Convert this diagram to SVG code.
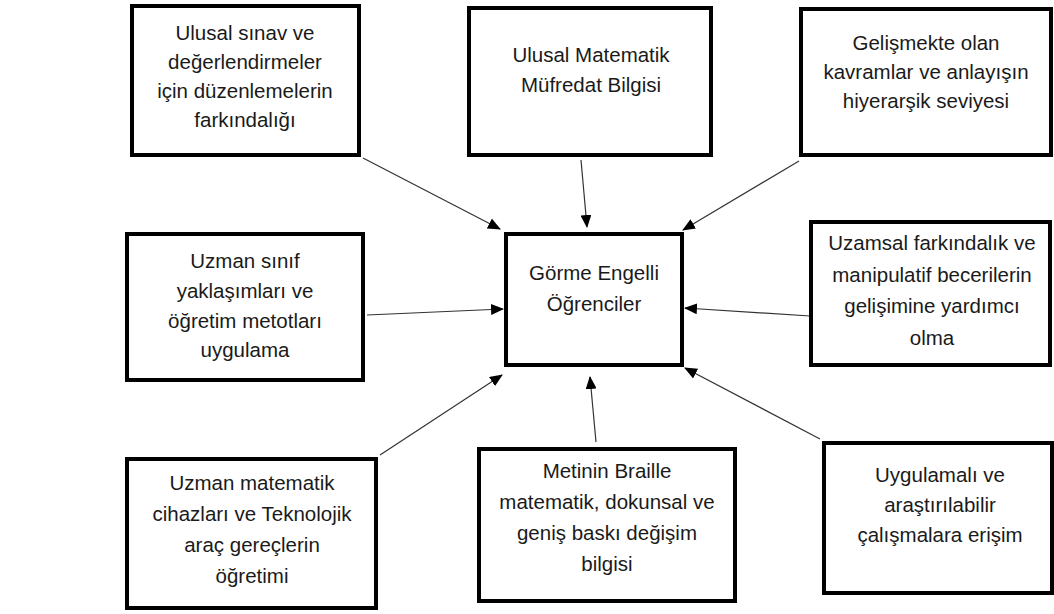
<svg xmlns="http://www.w3.org/2000/svg" width="1054" height="614" viewBox="0 0 1054 614">
<defs>
<style>
.box{fill:#fff;stroke:#000;stroke-width:4}
.t{font-family:"Liberation Sans",Arial,sans-serif;font-size:20.5px;fill:#1a1a1a;text-anchor:middle}
.c{stroke:#333;stroke-width:1.2;fill:none;marker-end:url(#ah)}
</style>
<marker id="ah" markerWidth="13" markerHeight="11" refX="12" refY="5.5" orient="auto" markerUnits="userSpaceOnUse">
<path d="M0,0 L13,5.5 L0,11 Z" fill="#000"/>
</marker>
</defs>
<rect width="1054" height="614" fill="#fff"/>
<g id="connectors">
<line class="c" x1="363" y1="158" x2="500" y2="229"/>
<line class="c" x1="581" y1="160" x2="587" y2="227"/>
<line class="c" x1="799" y1="161" x2="683" y2="230"/>
<line class="c" x1="367" y1="315" x2="503" y2="309"/>
<line class="c" x1="810" y1="316" x2="685" y2="308"/>
<line class="c" x1="380" y1="455" x2="502" y2="375"/>
<line class="c" x1="596" y1="442" x2="590" y2="377"/>
<line class="c" x1="820" y1="439" x2="685" y2="368"/>
</g>
<g id="n1">
<rect class="box" x="132" y="6" width="227" height="149"/>
<text class="t" x="245" y="40">Ulusal sınav ve</text>
<text class="t" x="245" y="69">değerlendirmeler</text>
<text class="t" x="245" y="98">için düzenlemelerin</text>
<text class="t" x="245" y="127">farkındalığı</text>
</g>
<g id="n2">
<rect class="box" x="469" y="8" width="242" height="147"/>
<text class="t" x="591" y="62">Ulusal Matematik</text>
<text class="t" x="591" y="92">Müfredat Bilgisi</text>
</g>
<g id="n3">
<rect class="box" x="801" y="9" width="250" height="146"/>
<text class="t" x="926" y="50">Gelişmekte olan</text>
<text class="t" x="926" y="79">kavramlar ve anlayışın</text>
<text class="t" x="926" y="108">hiyerarşik seviyesi</text>
</g>
<g id="n4">
<rect class="box" x="127" y="234" width="236" height="146"/>
<text class="t" x="245" y="268">Uzman sınıf</text>
<text class="t" x="245" y="298">yaklaşımları ve</text>
<text class="t" x="245" y="328">öğretim metotları</text>
<text class="t" x="245" y="357">uygulama</text>
</g>
<g id="center">
<rect class="box" x="506" y="234" width="176" height="131"/>
<text class="t" x="594" y="280">Görme Engelli</text>
<text class="t" x="594" y="311">Öğrenciler</text>
</g>
<g id="n6">
<rect class="box" x="811" y="222" width="239" height="143"/>
<text class="t" x="932" y="250">Uzamsal farkındalık ve</text>
<text class="t" x="932" y="282">manipulatif becerilerin</text>
<text class="t" x="932" y="313">gelişimine yardımcı</text>
<text class="t" x="932" y="345">olma</text>
</g>
<g id="n7">
<rect class="box" x="127" y="459" width="249" height="149"/>
<text class="t" x="252" y="490">Uzman matematik</text>
<text class="t" x="252" y="521">cihazları ve Teknolojik</text>
<text class="t" x="252" y="552">araç gereçlerin</text>
<text class="t" x="252" y="583">öğretimi</text>
</g>
<g id="n8">
<rect class="box" x="479" y="449" width="256" height="152"/>
<text class="t" x="607" y="478">Metinin Braille</text>
<text class="t" x="607" y="509">matematik, dokunsal ve</text>
<text class="t" x="607" y="540">geniş baskı değişim</text>
<text class="t" x="607" y="571">bilgisi</text>
</g>
<g id="n9">
<rect class="box" x="824" y="443" width="228" height="150"/>
<text class="t" x="940" y="482">Uygulamalı ve</text>
<text class="t" x="940" y="512">araştırılabilir</text>
<text class="t" x="940" y="542">çalışmalara erişim</text>
</g>
</svg>
